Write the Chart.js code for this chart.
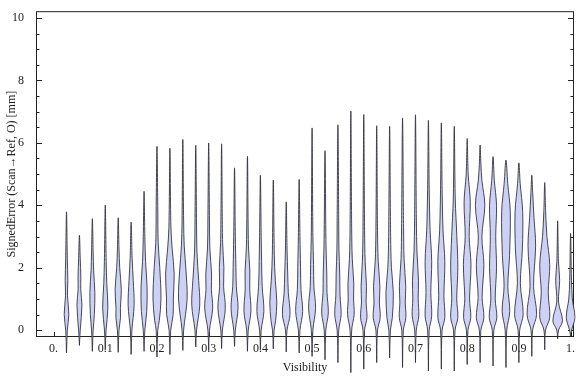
<!DOCTYPE html>
<html>
<head>
<meta charset="utf-8">
<script src="https://cdn.jsdelivr.net/npm/chart.js@4.4.0/dist/chart.umd.min.js"></script>
<style>
  html, body { margin: 0; padding: 0; background: #fff; }
</style>
</head>
<body>
<canvas id="chart" width="576" height="377"></canvas>
<script>
// violin positions on the Visibility axis
const visibility = [
  0.025, 0.05, 0.075, 0.1, 0.125, 0.15, 0.175, 0.2, 0.225, 0.25,
  0.275, 0.3, 0.325, 0.35, 0.375, 0.4, 0.425, 0.45, 0.475, 0.5,
  0.525, 0.55, 0.575, 0.6, 0.625, 0.65, 0.675, 0.7, 0.725, 0.75,
  0.775, 0.8, 0.825, 0.85, 0.875, 0.9, 0.925, 0.95, 0.975, 1.0
];

// lowest and highest signed error of each violin [mm]
const errMin = [
  -0.73, -0.49, -0.68, -0.63, -0.71, -0.78, -0.68, -0.86, -0.78, -0.65,
  -0.54, -0.65, -0.59, -0.52, -0.68, -0.63, -0.60, -0.70, -0.73, -0.84,
  -0.95, -1.04, -1.36, -1.25, -1.04, -0.89, -1.20, -1.04, -1.31, -1.25,
  -1.31, -1.10, -1.04, -1.15, -1.20, -1.04, -0.84, -0.63, -0.28, -0.20
];
const errMax = [
  3.79, 3.04, 3.57, 4.01, 3.60, 3.46, 4.45, 5.89, 5.83, 6.11,
  5.92, 6.00, 5.97, 5.20, 5.57, 4.96, 4.81, 4.11, 4.83, 6.48,
  5.75, 6.58, 7.02, 6.91, 6.55, 6.53, 6.80, 6.90, 6.72, 6.64,
  6.53, 6.14, 5.93, 5.56, 5.45, 5.36, 4.96, 4.73, 3.50, 3.10
];

// density profile of each violin: [error, half width]
const profiles = [
  [[0, 0.8], [0.5, 2.3], [1.1, 1.0], [1.6, 1.3], [2.3, 0.8]],
  [[0, 0.8], [0.8, 2.5], [1.3, 1.3], [1.7, 1.4], [2.3, 0.8]],
  [[0, 0.8], [0.5, 2.0], [1.2, 2.5], [1.9, 1.3], [2.5, 0.8]],
  [[0, 0.8], [0.7, 2.6], [1.5, 1.5], [2.2, 0.9]],
  [[0, 0.8], [0.4, 2.3], [0.7, 2.2], [1.3, 3.1], [2.0, 1.5], [2.6, 0.8]],
  [[0, 0.8], [0.8, 3.0], [1.6, 2.1], [2.3, 1.0]],
  [[0, 0.8], [0.6, 2.7], [1.4, 3.0], [2.2, 1.5], [3.0, 0.8]],
  [[0, 0.8], [0.3, 2.3], [1.0, 4.0], [2.0, 2.8], [2.8, 1.2], [4.0, 0.8]],
  [[0, 0.8], [0.5, 3.3], [1.0, 3.4], [1.8, 4.3], [2.6, 2.3], [3.3, 1.0]],
  [[0, 0.8], [1.0, 4.3], [1.9, 3.2], [2.7, 1.4], [3.5, 0.8]],
  [[0, 0.8], [0.8, 4.0], [1.6, 2.9], [2.5, 1.2], [3.4, 0.8]],
  [[0, 0.8], [0.7, 4.0], [1.3, 2.7], [1.8, 2.9], [2.6, 1.2], [3.5, 0.8]],
  [[0, 0.8], [0.7, 3.7], [1.4, 2.0], [2.0, 2.3], [2.8, 1.0]],
  [[0, 0.8], [0.7, 3.5], [1.4, 1.8], [2.0, 1.4], [3.0, 0.8]],
  [[0, 0.8], [0.6, 3.5], [1.3, 2.3], [1.9, 2.4], [2.7, 1.0]],
  [[0, 0.8], [0.6, 3.5], [1.4, 1.8], [2.2, 1.2], [3.0, 0.8]],
  [[0, 0.8], [0.3, 2.3], [0.9, 3.5], [1.6, 2.0], [2.4, 1.0]],
  [[0, 0.8], [0.5, 3.8], [1.2, 2.1], [1.8, 1.5], [2.6, 0.8]],
  [[0, 0.8], [0.6, 3.5], [1.3, 1.8], [2.0, 1.4], [3.0, 0.8]],
  [[0, 0.8], [0.7, 3.5], [1.4, 1.8], [2.1, 1.5], [3.0, 0.8]],
  [[0, 0.8], [0.55, 3.3], [1.2, 2.0], [1.8, 1.8], [2.7, 1.0]],
  [[0, 0.8], [0.5, 3.2], [1.1, 2.1], [1.8, 1.8], [2.6, 1.0], [3.5, 0.8]],
  [[0, 0.8], [0.5, 3.3], [1.0, 2.7], [1.5, 2.9], [2.3, 1.4], [3.3, 0.8]],
  [[0, 0.8], [0.4, 3.2], [0.9, 2.3], [1.4, 2.7], [2.2, 1.4], [3.2, 0.8]],
  [[0, 0.8], [0.4, 3.5], [0.9, 2.7], [1.4, 3.2], [2.2, 1.5], [3.2, 0.8]],
  [[0, 0.8], [0.4, 2.7], [1.2, 3.7], [2.0, 1.8], [3.0, 1.0]],
  [[0, 0.8], [0.4, 3.3], [0.9, 2.7], [1.4, 3.2], [2.3, 1.5], [3.3, 1.0]],
  [[0, 0.8], [0.45, 3.3], [1.0, 2.7], [1.6, 3.0], [2.5, 1.5], [3.5, 0.9]],
  [[0, 0.8], [0.45, 3.3], [1.2, 2.4], [2.2, 3.3], [3.2, 1.7], [4.5, 0.8]],
  [[0, 0.8], [0.4, 3.5], [1.1, 2.6], [2.2, 3.5], [3.2, 1.7], [4.5, 0.8]],
  [[0, 0.8], [0.4, 3.6], [1.0, 2.5], [2.0, 3.6], [3.0, 2.6], [4.2, 1.0]],
  [[0, 0.8], [0.4, 3.6], [1.0, 2.4], [2.1, 3.8], [3.0, 2.0], [4.1, 3.1], [5.0, 1.0]],
  [[0, 0.8], [0.4, 3.8], [1.05, 2.0], [2.1, 3.8], [3.0, 1.8], [4.0, 4.7], [4.8, 1.8], [5.3, 0.8]],
  [[0, 0.8], [0.4, 3.8], [1.0, 2.2], [2.0, 3.5], [3.0, 2.7], [4.0, 3.5], [4.8, 1.3]],
  [[0, 0.8], [0.6, 3.8], [1.4, 1.9], [2.4, 3.6], [3.8, 4.3], [4.7, 1.8]],
  [[0, 0.8], [0.5, 4.3], [1.5, 1.5], [2.6, 3.5], [3.8, 3.8], [4.7, 1.3]],
  [[0, 0.8], [0.5, 4.8], [1.4, 1.8], [2.7, 3.8], [3.6, 2.2], [4.4, 0.9]],
  [[0, 0.8], [0.4, 5.0], [1.2, 3.5], [2.1, 5.0], [3.0, 2.2], [3.8, 0.9]],
  [[0, 0.9], [0.3, 4.8], [0.9, 0.9], [1.6, 2.0], [2.2, 0.8]],
  [[0, 1.0], [0.4, 4.3], [1.0, 1.8], [1.6, 0.9]]
];

const xTicks = [0, 0.1, 0.2, 0.3, 0.4, 0.5, 0.6, 0.7, 0.8, 0.9, 1];
const yTicks = [0, 2, 4, 6, 8, 10];

const widthScale = 0.00193;   // half width unit -> visibility units
const font = { family: 'Liberation Serif', size: 12 };

function violinPoints(i) {
  const c = visibility[i];
  const right = profiles[i].map(([y, w]) => ({ x: c + w * widthScale, y: y }));
  const left = profiles[i].slice().reverse().map(([y, w]) => ({ x: c - w * widthScale, y: y }));
  return [{ x: c, y: errMin[i] }, ...right, { x: c, y: errMax[i] }, ...left, { x: c, y: errMin[i] }];
}

// frame with inward ticks, like the original
const framePlugin = {
  id: 'frame',
  beforeDatasetsDraw(chart) {
    const { ctx, chartArea: a, scales: { x, y } } = chart;
    ctx.save();
    ctx.strokeStyle = '#222';
    ctx.lineWidth = 1;
    ctx.strokeRect(a.left + 0.5, a.top + 0.5, a.right - a.left - 1, a.bottom - a.top - 1);
    ctx.beginPath();
    for (let v = 0; v <= 10; v += 0.5) {
      const py = Math.round(y.getPixelForValue(v)) + 0.5;
      const len = v % 2 === 0 ? 6 : 3.5;
      ctx.moveTo(a.left, py); ctx.lineTo(a.left + len, py);
      ctx.moveTo(a.right, py); ctx.lineTo(a.right - len, py);
    }
    xTicks.forEach(v => {
      const px = Math.round(x.getPixelForValue(v)) + 0.5;
      ctx.moveTo(px, a.bottom); ctx.lineTo(px, a.bottom - 5);
    });
    ctx.stroke();
    ctx.restore();
  }
};

const chart = new Chart(document.getElementById('chart'), {
  type: 'scatter',
  data: {
    datasets: visibility.map((v, i) => ({
      data: violinPoints(i),
      showLine: true,
      fill: 'shape',
      backgroundColor: 'rgb(204, 209, 245)',
      borderColor: 'rgba(45, 45, 55, 0.85)',
      borderWidth: 1,
      pointRadius: 0,
      tension: 0.35,
      clip: false,
    })),
  },
  options: {
    responsive: false,
    animation: false,
    devicePixelRatio: 1,
    layout: { padding: { top: 4, right: 2, left: 0, bottom: 0 } },
    elements: { line: { capBezierPoints: false } },
    plugins: {
      legend: { display: false },
      tooltip: { enabled: false },
    },
    scales: {
      x: {
        type: 'linear',
        min: -0.034,
        max: 1.0066,
        afterBuildTicks: s => { s.ticks = xTicks.map(v => ({ value: v })); },
        afterFit: s => { s.height = 40; },
        grid: { display: false },
        border: { display: false },
        ticks: {
          autoSkip: false,
          maxRotation: 0,
          padding: -3,
          color: '#222',
          font: font,
          callback: v => Number.isInteger(v) ? v + '.' : v.toFixed(1),
        },
        title: {
          display: true,
          text: 'Visibility',
          color: '#222',
          font: font,
          padding: { top: 0, bottom: 2 },
        },
      },
      y: {
        type: 'linear',
        min: -0.22,
        max: 10.22,
        afterBuildTicks: s => { s.ticks = yTicks.map(v => ({ value: v })); },
        afterFit: s => { s.width = 36; },
        grid: { display: false },
        border: { display: false },
        ticks: { padding: 4, color: '#222', font: font },
        title: {
          display: true,
          text: 'SignedError (Scan\u2192Ref, O) [mm]',
          color: '#222',
          font: font,
          padding: { top: 5, bottom: 0 },
        },
      },
    },
  },
  plugins: [framePlugin],
});
</script>
</body>
</html>
